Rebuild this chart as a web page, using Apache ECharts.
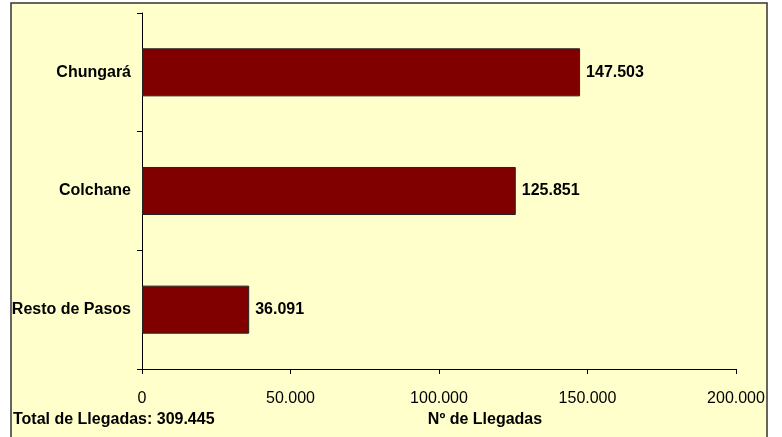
<!DOCTYPE html>
<html>
<head>
<meta charset="utf-8">
<script src="https://cdn.jsdelivr.net/npm/echarts@6/dist/echarts.min.js"></script>
<style>
html,body{margin:0;padding:0;background:#fff;}
#main{width:782px;height:437px;}
</style>
</head>
<body>
<div id="main"></div>
<script>
var categories = ['Chungará', 'Colchane', 'Resto de Pasos'];
var arrivals = [147503, 125851, 36091];
var xTicks = [0, 50000, 100000, 150000, 200000];
var totalLabel = 'Total de Llegadas: 309.445';
var axisTitle = 'Nº de Llegadas';

function fmt(v) {
  return String(Math.round(v)).replace(/\B(?=(\d{3})+(?!\d))/g, '.');
}

var FONT = '"Liberation Sans", Arial, sans-serif';
var chart = echarts.init(document.getElementById('main'), null, {renderer: 'canvas'});
chart.setOption({
  backgroundColor: '#ffffff',
  animation: false,
  textStyle: {fontFamily: FONT},
  graphic: [
    {type: 'rect', z: -10, shape: {x: 11, y: 3, width: 756, height: 440},
     style: {fill: '#FFFFCC', stroke: '#333333', lineWidth: 1.5}},
    {type: 'text', left: 13, top: 412, z: 10,
     style: {text: totalLabel, font: 'bold 16px ' + FONT, fill: '#000'}},
    {type: 'text', x: 485, y: 420, z: 10,
     style: {text: axisTitle, font: 'bold 16px ' + FONT, fill: '#000', align: 'center', verticalAlign: 'middle'}}
  ],
  grid: {left: 142, right: 46, top: 13, bottom: 68, containLabel: false},
  xAxis: {
    type: 'value', min: xTicks[0], max: xTicks[xTicks.length - 1], interval: xTicks[1] - xTicks[0],
    axisLine: {show: true, lineStyle: {color: '#000', width: 1}},
    axisTick: {show: true, length: 5, lineStyle: {color: '#000'}},
    splitLine: {show: false},
    axisLabel: {margin: 22, fontSize: 16, color: '#000', fontFamily: FONT, formatter: fmt}
  },
  yAxis: {
    type: 'category', data: categories, inverse: true,
    axisLine: {show: true, lineStyle: {color: '#000', width: 1}},
    axisTick: {show: true, length: 5, alignWithLabel: false, lineStyle: {color: '#000'}},
    axisLabel: {margin: 11, fontSize: 16, fontWeight: 'bold', color: '#000', fontFamily: FONT}
  },
  series: [{
    type: 'bar', data: arrivals, barCategoryGap: '59.5%',
    itemStyle: {color: '#800000', borderColor: '#222', borderWidth: 1},
    label: {show: true, position: 'right', distance: 6, fontSize: 16, fontWeight: 'bold', color: '#000', fontFamily: FONT,
            formatter: function (p) { return fmt(p.value); }}
  }]
});
</script>
</body>
</html>
